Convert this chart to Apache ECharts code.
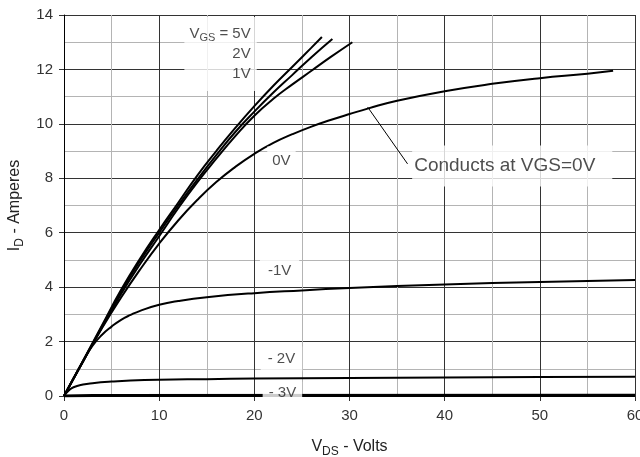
<!DOCTYPE html>
<html><head><meta charset="utf-8">
<script src="https://cdn.jsdelivr.net/npm/echarts@6/dist/echarts.min.js"></script>
<style>html,body{margin:0;padding:0;background:#fff}#c{width:640px;height:457px}</style>
</head><body><div id="c"></div>
<script>
// Axis ranges (V_DS in volts, I_D in amperes)
const xRange = [0, 60], xStep = 10;
const yRange = [0, 14], yStep = 2;

// Curves: [V_DS, I_D]
const vgs5V = [[0,0],[2,1.3],[4,2.6],[6,3.9],[8,5.05],[10,6.1],[12,7.1],[14,8.1],[16,9.0],[18,9.85],[20,10.65],[22,11.4],[24,12.1],[26,12.8],[27.1,13.19]];
const vgs2V = [[0,0],[2,1.28],[4,2.56],[6,3.84],[8,4.97],[10,6.0],[12,7.0],[14,7.95],[16,8.85],[18,9.7],[20,10.45],[22,11.15],[24,11.8],[26,12.45],[28.2,13.12]];
const vgs1V = [[0,0],[2,1.27],[4,2.53],[6,3.75],[8,4.85],[10,5.87],[12,6.9],[14,7.85],[16,8.72],[18,9.55],[20,10.3],[22,10.92],[24,11.45],[26,11.95],[28,12.45],[30.3,13.0]];
const vgs0V = [[0,0],[2,1.27],[4,2.5],[6,3.62],[8,4.65],[10,5.6],[12,6.45],[14,7.2],[16,7.86],[18,8.42],[20,8.9],[22,9.3],[24,9.62],[26,9.9],[28,10.14],[30,10.36],[32,10.57],[35,10.85],[40,11.2],[45,11.47],[50,11.68],[55,11.84],[57.7,11.95]];
const vgsM1V = [[0,0],[1,0.65],[2,1.28],[3,1.85],[4,2.25],[5,2.55],[6,2.8],[7,2.98],[8,3.13],[10,3.35],[12,3.49],[15,3.63],[20,3.78],[25,3.88],[30,3.97],[35,4.04],[40,4.1],[45,4.15],[50,4.19],[55,4.23],[60,4.26]];
const vgsM2V = [[0,0],[0.5,0.2],[1,0.32],[2,0.42],[3,0.47],[5,0.53],[7,0.57],[10,0.6],[15,0.62],[20,0.64],[30,0.66],[40,0.68],[50,0.7],[60,0.71]];
const vgsM3V = [[0,0],[3,0.02],[60,0.03]];

// Leader line for the callout
const leader = [[31.9,10.62],[36.1,8.53]];

// Curve labels (text) and their anchor points in data units
const labelTexts = ['{a|V}{s|GS}{a| = 5V}\n{r|2V}\n{r|1V}', '0V', '-1V', '- 2V', '- 3V', 'Conducts at VGS=0V'];
const labelAnchors = [[16.45,12.57],[22.85,8.64],[22.65,4.6],[22.85,1.36],[22.95,0.1],[47.1,8.45]];

const FONT = 'Liberation Sans, Arial, sans-serif';
const chart = echarts.init(document.getElementById('c'));

function curve(name, data, width) {
  return { name, type: 'line', data, symbol: 'none', smooth: 0.5,
    lineStyle: { color: '#000', width: width || 2 }, silent: true, z: 3 };
}

const labelStyles = [
  { fontSize: 15, padding: [7,6,7,5], lineHeight: 20,
    rich: { a: { fontSize: 15, color: '#222', fontFamily: FONT, lineHeight: 20 },
            s: { fontSize: 11, color: '#222', fontFamily: FONT, lineHeight: 11, padding: [9,0,0,0] },
            r: { fontSize: 15, color: '#222', fontFamily: FONT, align: 'right', lineHeight: 20 } } },
  { fontSize: 15, padding: [7,5,7,5] },
  { fontSize: 15, padding: [7,8,7,8] },
  { fontSize: 15, padding: [5,7,5,7] },
  { fontSize: 15, padding: [4,6,4,6] },
  { fontSize: 19, padding: [11,17,11,2] }
];

const noteData = labelTexts.map((t, i) => ({
  value: labelAnchors[i],
  label: Object.assign({ show: true, position: 'inside', formatter: t, color: '#222',
    fontFamily: FONT, backgroundColor: '#fff' }, labelStyles[i])
}));

chart.setOption({
  animation: false,
  grid: { left: 64, right: 5, top: 15, bottom: 61, containLabel: false, outerBoundsMode: 'none' },
  xAxis: {
    type: 'value', min: xRange[0], max: xRange[1], interval: xStep,
    name: '{a|V}{s|DS}{a| - Volts}', nameLocation: 'middle', nameGap: 42,
    nameTextStyle: { rich: {
      a: { fontSize: 16, color: '#222', fontFamily: FONT, lineHeight: 18 },
      s: { fontSize: 12, color: '#222', fontFamily: FONT, lineHeight: 12, padding: [9,0,0,0] } } },
    axisLine: { show: true, onZero: false, lineStyle: { color: '#000', width: 1 } },
    axisTick: { show: true, length: 5, lineStyle: { color: '#333' } },
    axisLabel: { fontSize: 15, color: '#333', fontFamily: FONT, margin: 12, hideOverlap: false },
    splitLine: { show: true, lineStyle: { color: '#333', width: 1 } },
    minorTick: { show: false, splitNumber: 2 },
    minorSplitLine: { show: true, lineStyle: { color: '#b4b4b4', width: 1 } }
  },
  yAxis: {
    type: 'value', min: yRange[0], max: yRange[1], interval: yStep,
    name: '{a|I}{s|D}{a| - Amperes}', nameLocation: 'middle', nameGap: 37, nameRotate: 90,
    nameTextStyle: { rich: {
      a: { fontSize: 16, color: '#222', fontFamily: FONT, lineHeight: 18 },
      s: { fontSize: 12, color: '#222', fontFamily: FONT, lineHeight: 12, padding: [9,0,0,0] } } },
    axisLine: { show: true, onZero: false, lineStyle: { color: '#000', width: 1 } },
    axisTick: { show: true, length: 5, lineStyle: { color: '#333' } },
    axisLabel: { fontSize: 15, color: '#333', fontFamily: FONT, margin: 11 },
    splitLine: { show: true, lineStyle: { color: '#333', width: 1 } },
    minorTick: { show: false, splitNumber: 2 },
    minorSplitLine: { show: true, lineStyle: { color: '#b4b4b4', width: 1 } }
  },
  series: [
    curve('5V', vgs5V), curve('2V', vgs2V), curve('1V', vgs1V), curve('0V', vgs0V),
    curve('-1V', vgsM1V), curve('-2V', vgsM2V), curve('-3V', vgsM3V, 3),
    { name: 'leader', type: 'line', data: leader, symbol: 'none', silent: true,
      lineStyle: { color: '#000', width: 1 }, z: 3 },
    { name: 'notes', type: 'scatter', data: noteData, symbolSize: 1, silent: true, clip: false,
      itemStyle: { color: 'rgba(0,0,0,0)' }, z: 10, zlevel: 1 }
  ]
});
</script></body></html>
